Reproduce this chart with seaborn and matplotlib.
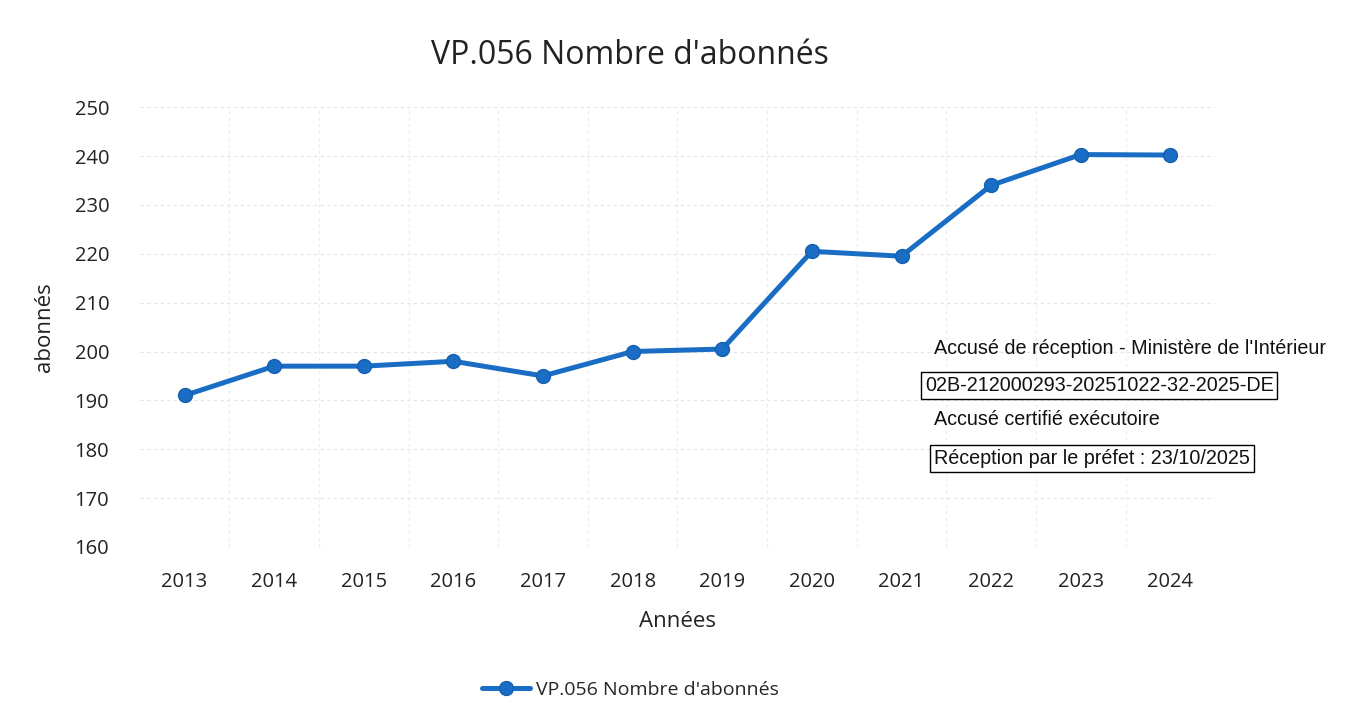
import pandas as pd
import matplotlib.pyplot as plt
import seaborn as sns

years = ["2013", "2014", "2015", "2016", "2017", "2018",
         "2019", "2020", "2021", "2022", "2023", "2024"]
abonnes = [191, 197, 197, 198, 195, 200, 200.5, 220.5, 219.5, 234, 240.3, 240.2]
yticks = list(range(160, 251, 10))

series_name = "VP.056 Nombre d'abonnés"
df = pd.DataFrame({"year": years, "abonnes": abonnes})

sns.set_style("white")
plt.rcParams['font.family'] = ['Open Sans', 'DejaVu Sans']

fig = plt.figure(figsize=(13.7, 7.24), dpi=100)
ax = fig.add_axes([0.102, 0.2445, 0.785, 0.6075])

sns.lineplot(data=df, x="year", y="abonnes", ax=ax, color="#1a6dc4",
             linewidth=3.6, marker="o", markersize=10,
             markeredgecolor="#1560b0", markeredgewidth=1,
             label=series_name, legend=False)

ax.set_ylim(160, 250)
ax.set_yticks(yticks)
ax.set_xlim(-0.5, len(years) - 0.5)
ax.set_xticks(range(len(years)))
ax.set_xticklabels(years)

# faint dashed grid, vertical lines between categories
for y in yticks:
    ax.axhline(y, color="#e4e4e4", lw=0.8, ls=(0, (3, 3)), zorder=0)
for i in range(len(years) - 1):
    ax.axvline(i + 0.5, color="#ececec", lw=0.8, ls=(0, (3, 3)), zorder=0)
for s in ax.spines.values():
    s.set_visible(False)
ax.axhline(160, color="#e0e0e0", lw=0.8, zorder=0)
ax.tick_params(axis="both", length=0, labelsize=14.5, colors="#222222")
ax.tick_params(axis="y", pad=22)
ax.tick_params(axis="x", pad=18)

ax.set_xlabel("Années", fontsize=16, labelpad=14, color="#222222")
ax.set_ylabel("abonnés", fontsize=16, labelpad=14, color="#222222")
fig.text(0.46, 0.924, series_name, ha="center", va="center",
         fontsize=23, color="#222222")

handles, labels = ax.get_legend_handles_labels()
fig.legend(handles, labels, loc="center", bbox_to_anchor=(0.46, 0.047),
           frameon=False, fontsize=14, handlelength=2.5, handletextpad=0.3)

# stamp text
stamp = dict(fontsize=14.2, family=['Liberation Sans', 'DejaVu Sans'], color="#111111")
box = dict(boxstyle="square,pad=0.2", fc="white", ec="black", lw=1)
fig.text(0.682, 0.519, "Accusé de réception - Ministère de l'Intérieur", va="center", **stamp)
fig.text(0.675, 0.467, "02B-212000293-20251022-32-2025-DE", va="center", bbox=box, **stamp)
fig.text(0.682, 0.421, "Accusé certifié exécutoire", va="center", **stamp)
fig.text(0.682, 0.367, "Réception par le préfet : 23/10/2025", va="center", bbox=box, **stamp)

fig.savefig("out.png", dpi=100)
